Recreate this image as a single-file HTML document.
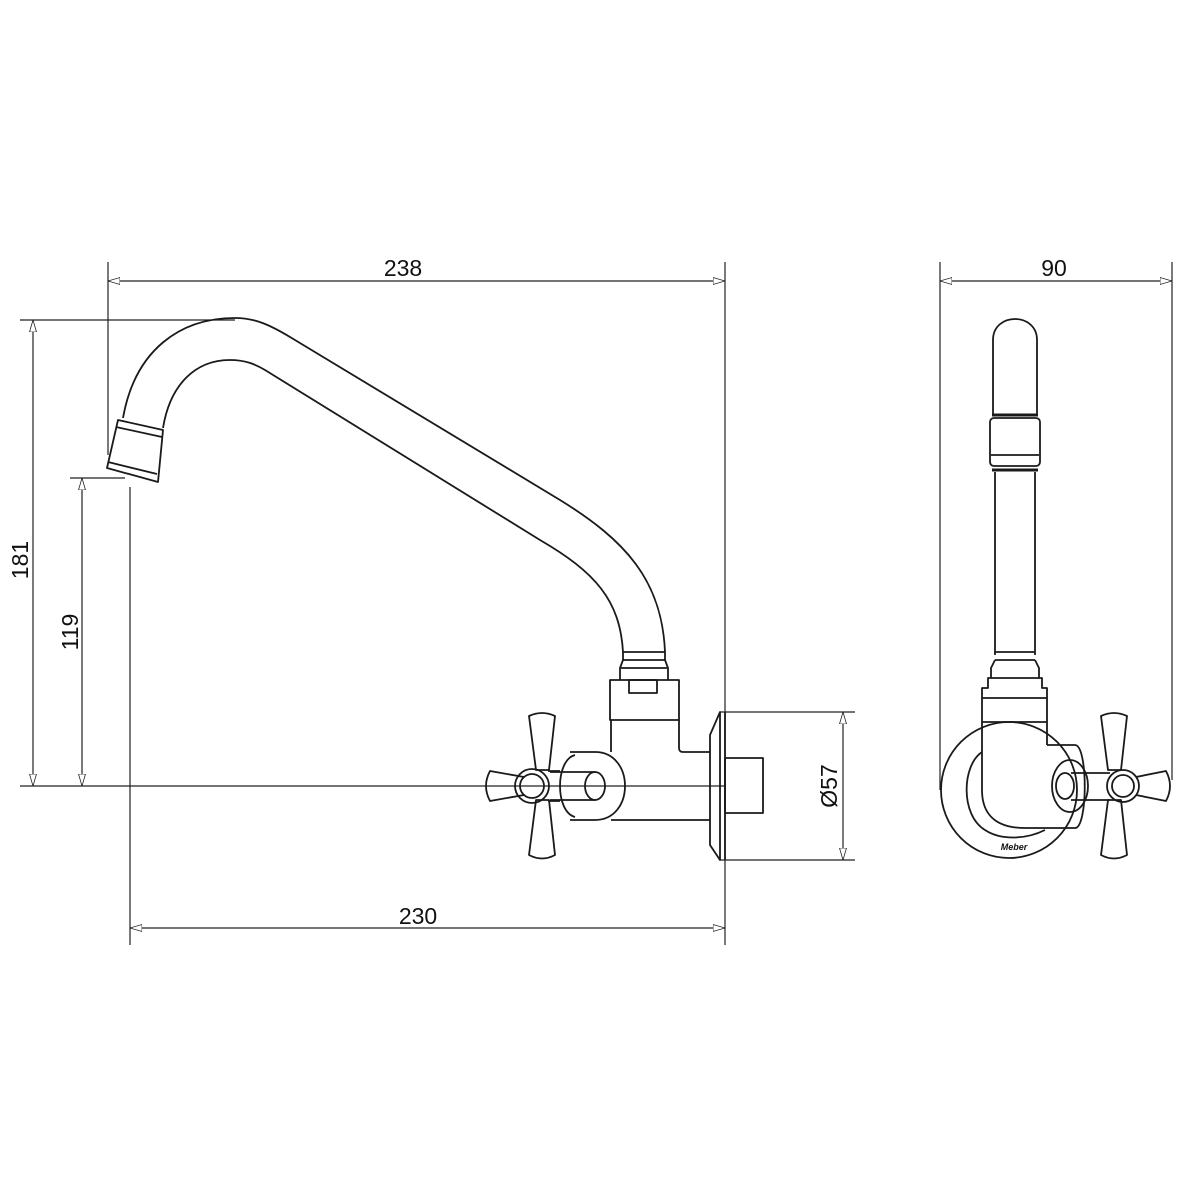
<!DOCTYPE html>
<html><head><meta charset="utf-8"><style>
html,body{margin:0;padding:0;background:#fff}
svg{display:block}
text{font-family:"Liberation Sans",sans-serif;font-size:23px;fill:#111}
</style></head><body>
<svg width="1200" height="1200" viewBox="0 0 1200 1200" xmlns="http://www.w3.org/2000/svg">
<defs>
<marker id="a" viewBox="0 0 12 8" refX="12" refY="4" markerWidth="12" markerHeight="8" orient="auto-start-reverse" markerUnits="userSpaceOnUse">
<path d="M0,0.5 L12,4 L0,7.5 Z" fill="#fff" stroke="#222" stroke-width="0.8"/>
</marker>
</defs>
<g stroke="#222" stroke-width="1.2" fill="none">
<line x1="108" y1="262" x2="108" y2="455"/>
<line x1="725" y1="262" x2="725" y2="945"/>
<line x1="20" y1="320" x2="235" y2="320"/>
<line x1="20" y1="786" x2="725" y2="786"/>
<line x1="70" y1="478" x2="125" y2="478"/>
<line x1="130" y1="487" x2="130" y2="945"/>
<line x1="720" y1="712" x2="855" y2="712"/>
<line x1="720" y1="860" x2="855" y2="860"/>
<line x1="940" y1="262" x2="940" y2="790"/>
<line x1="1172" y1="262" x2="1172" y2="780"/>
<line x1="108" y1="281" x2="725" y2="281" marker-start="url(#a)" marker-end="url(#a)"/>
<line x1="33" y1="320" x2="33" y2="786" marker-start="url(#a)" marker-end="url(#a)"/>
<line x1="82" y1="478" x2="82" y2="786" marker-start="url(#a)" marker-end="url(#a)"/>
<line x1="130" y1="928" x2="725" y2="928" marker-start="url(#a)" marker-end="url(#a)"/>
<line x1="843" y1="712" x2="843" y2="860" marker-start="url(#a)" marker-end="url(#a)"/>
<line x1="940" y1="281" x2="1172" y2="281" marker-start="url(#a)" marker-end="url(#a)"/>
</g>
<g stroke="#1a1a1a" stroke-width="1.8" fill="none" stroke-linejoin="round">
<path d="M123,418 C135,350 180,318 235,318 C255,318 270,325 290,337 L560,500 C625,540 662,580 665,652"/>
<path d="M163,428 C170,385 195,360 230,360 C245,360 255,364 265,370 L540,540 C595,572 620,600 623,652"/>
<path d="M118,420 L163,430 L158,482 L107,468 Z"/>
<line x1="116" y1="427" x2="162" y2="437"/>
<line x1="108" y1="462" x2="157" y2="474"/>
<rect x="623" y="652" width="42" height="8"/>
<path d="M623,660 L620,668 L620,680 M665,660 L668,668 L668,680 M621,668 L667,668"/>
<rect x="610" y="680" width="69" height="40"/>
<rect x="629" y="680" width="28" height="13"/>
<path d="M611,720 L611,752 M611,820 L710,820 M679,720 L679,748 Q679,752 683,752 L710,752"/>
<path d="M720,712 L710,735 L710,845 L720,860 Z"/>
<line x1="725" y1="712" x2="725" y2="860"/>
<rect x="725" y="758" width="38" height="55"/>
<path d="M570,752 L595,752 C635,752 635,820 595,820 L570,820"/>
<path d="M575,755 C555,760 555,812 575,817"/>
<ellipse cx="595" cy="786" rx="10" ry="14"/>
<path d="M550,772 L595,772 M550,800 L595,800"/>
<path d="M529,716 Q542,710 555,716 L549,770 L536,770 Z"/>
<path d="M536,800 L549,800 L555,855 Q542,862 529,855 Z"/>
<path d="M524,777 L490,771 Q482,786 490,801 L524,795"/>
<circle cx="532" cy="786" r="17"/>
<circle cx="532" cy="786" r="12"/>
<path d="M548,771 L560,771 M548,801 L560,801"/>
</g>
<g stroke="#1a1a1a" stroke-width="1.8" fill="none" stroke-linejoin="round">
<path d="M993,415 L993,340 C993,312 1037,312 1037,340 L1037,415"/>
<rect x="990" y="418" width="50" height="48" rx="4"/>
<line x1="992" y1="415" x2="1038" y2="415" stroke-width="3"/>
<line x1="992" y1="470" x2="1038" y2="470" stroke-width="3"/>
<line x1="991" y1="455" x2="1039" y2="455"/>
<path d="M995,472 L995,655 M1035,472 L1035,655"/>
<path d="M995,652 L1035,652 M995,660 L1035,660 M995,660 L991,668 L991,678 M1035,660 L1039,668 L1039,678"/>
<path d="M988,678 L1042,678 L1042,688 L1047,688 L1047,698 L982,698 L982,688 L988,688 Z"/>
<path d="M982,698 L982,790 C982,818 1000,828 1025,828 L1062,828"/>
<path d="M1047,698 L1047,745"/>
<line x1="982" y1="722" x2="1047" y2="722"/>
<circle cx="1009" cy="790" r="68"/>
<path d="M982,752 C962,765 960,815 985,830 C1000,840 1025,840 1045,830"/>
<path d="M1047,745 L1075,745 C1088,745 1088,828 1075,828 L1062,828"/>
<ellipse cx="1070" cy="786" rx="18" ry="26"/>
<ellipse cx="1065" cy="786" rx="9" ry="13"/>
<path d="M1071,773 L1110,773 M1071,800 L1110,800"/>
<path d="M1101,716 Q1114,710 1127,716 L1121,770 L1108,770 Z"/>
<path d="M1108,800 L1121,800 L1127,855 Q1114,862 1101,855 Z"/>
<path d="M1136,777 L1166,771 Q1174,786 1166,801 L1136,795"/>
<circle cx="1123" cy="786" r="16"/>
<circle cx="1123" cy="786" r="11"/>
</g>
<text x="1014" y="850" style="font-size:9px;font-weight:bold;font-style:italic" text-anchor="middle">Meber</text>
<text x="403" y="276" text-anchor="middle">238</text>
<text x="418" y="924" text-anchor="middle">230</text>
<text x="1054" y="276" text-anchor="middle">90</text>
<text transform="translate(28,560) rotate(-90)" text-anchor="middle">181</text>
<text transform="translate(78,632) rotate(-90)" text-anchor="middle">119</text>
<text transform="translate(837,786) rotate(-90)" text-anchor="middle">Ø57</text>
</svg>
</body></html>
